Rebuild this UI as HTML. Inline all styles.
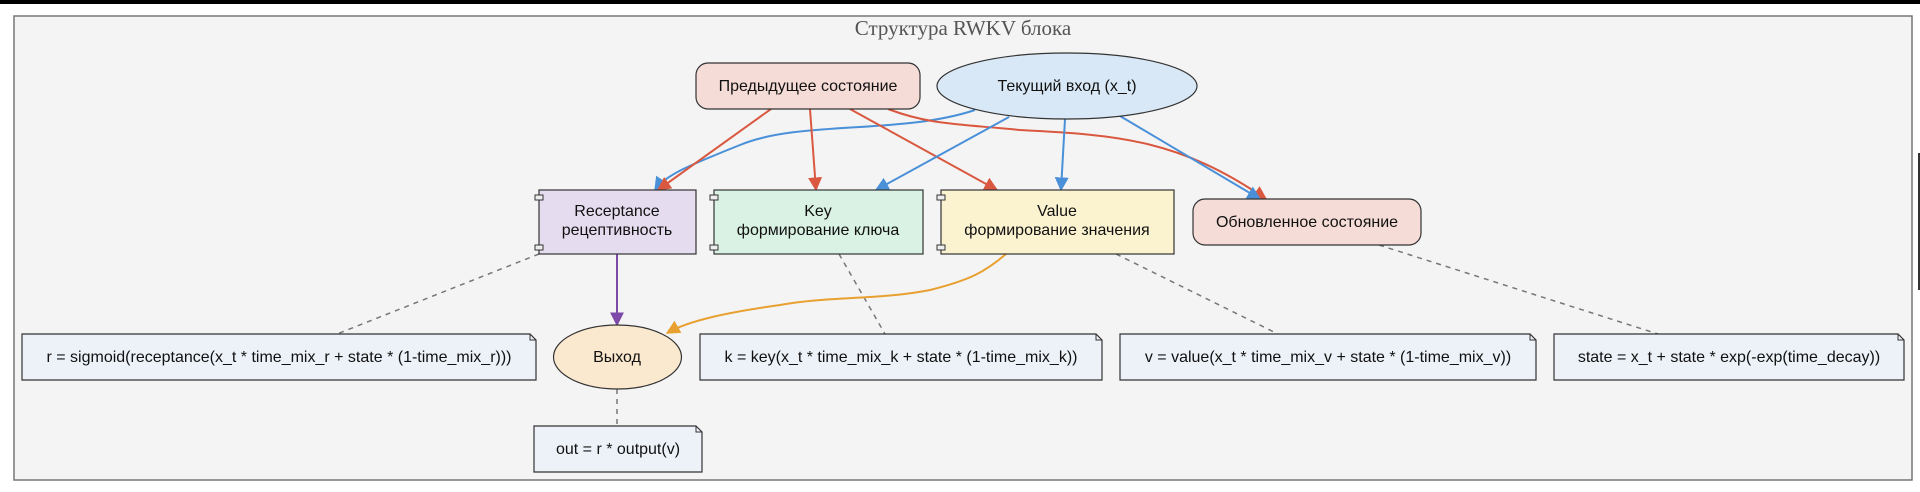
<!DOCTYPE html>
<html><head><meta charset="utf-8"><style>
html,body{margin:0;padding:0;background:#fff;}
svg{display:block;}
text{font-family:"Liberation Sans","DejaVu Sans",sans-serif;font-size:16px;fill:#111;}
</style></head><body>
<svg width="1920" height="492" viewBox="0 0 1920 492" xmlns="http://www.w3.org/2000/svg">
<defs>
<marker id="ar" viewBox="0 0 10 10" refX="9" refY="5" markerWidth="14" markerHeight="14" markerUnits="userSpaceOnUse" orient="auto"><path d="M0,0 L10,5 L0,10 z" fill="#d9583f"/></marker>
<marker id="ab" viewBox="0 0 10 10" refX="9" refY="5" markerWidth="14" markerHeight="14" markerUnits="userSpaceOnUse" orient="auto"><path d="M0,0 L10,5 L0,10 z" fill="#4a90d9"/></marker>
<marker id="ap" viewBox="0 0 10 10" refX="9" refY="5" markerWidth="14" markerHeight="14" markerUnits="userSpaceOnUse" orient="auto"><path d="M0,0 L10,5 L0,10 z" fill="#7d4aa8"/></marker>
<marker id="ao" viewBox="0 0 10 10" refX="9" refY="5" markerWidth="14" markerHeight="14" markerUnits="userSpaceOnUse" orient="auto"><path d="M0,0 L10,5 L0,10 z" fill="#e8a030"/></marker>
</defs>
<rect x="0" y="0" width="1920" height="4" fill="#000"/>
<rect x="1918" y="153" width="2" height="137" fill="#333"/>
<rect x="14" y="16" width="1898" height="464" fill="#f4f4f4" stroke="#777" stroke-width="1.5"/>
<text x="963" y="35" text-anchor="middle" style="font-family:'Liberation Serif',serif;font-size:21px;fill:#555">Структура RWKV блока</text>

<g stroke="#777" stroke-width="1.5" stroke-dasharray="5,5" fill="none">
<line x1="539" y1="254" x2="337" y2="334"/>
<line x1="839" y1="254" x2="885" y2="334"/>
<line x1="1116" y1="254" x2="1278" y2="334"/>
<line x1="1379" y1="245" x2="1658" y2="334"/>
<line x1="617" y1="389" x2="617" y2="426"/>
</g>

<g fill="none" stroke-width="2">
<path d="M975,110 C900,135 800,120 740,145 C690,165 665,175 655,190" stroke="#4a90d9" marker-end="url(#ab)"/>
<path d="M771,109 L658,190" stroke="#d9583f" marker-end="url(#ar)"/>
<path d="M810,109 L816,190" stroke="#d9583f" marker-end="url(#ar)"/>
<path d="M850,109 L997,190" stroke="#d9583f" marker-end="url(#ar)"/>
<path d="M888,109 C930,125 960,124 1020,130 C1120,135 1180,140 1266,199" stroke="#d9583f" marker-end="url(#ar)"/>
<path d="M1009,117 L876,190" stroke="#4a90d9" marker-end="url(#ab)"/>
<path d="M1065,119 L1061,190" stroke="#4a90d9" marker-end="url(#ab)"/>
<path d="M1120,116 L1260,199" stroke="#4a90d9" marker-end="url(#ab)"/>
<path d="M617,254 L617,325" stroke="#7d4aa8" marker-end="url(#ap)"/>
<path d="M1006,254 C985,272 970,280 930,290 C880,300 830,296 780,305 C730,312 690,320 667,333" stroke="#e8a030" marker-end="url(#ao)"/>
</g>

<g stroke="#333" stroke-width="1.2">
<rect x="696" y="63" width="224" height="46" rx="12" fill="#f5dcd7"/>
<ellipse cx="1067" cy="86" rx="130" ry="33" fill="#d9e8f6"/>
<rect x="539" y="190" width="157" height="64" fill="#e6dcef"/>
<rect x="714" y="190" width="209" height="64" fill="#d9f2e3"/>
<rect x="941" y="190" width="233" height="64" fill="#fbf2d0"/>
<rect x="1193" y="199" width="228" height="46" rx="12" fill="#f5dcd7"/>
<ellipse cx="617.5" cy="357" rx="64" ry="32" fill="#fbe9cf"/>
</g>
<g stroke="#333" stroke-width="1" fill="#eee">
<rect x="535" y="195" width="8" height="5"/><rect x="535" y="245" width="8" height="5"/>
<rect x="710" y="195" width="8" height="5"/><rect x="710" y="245" width="8" height="5"/>
<rect x="937" y="195" width="8" height="5"/><rect x="937" y="245" width="8" height="5"/>
</g>
<g stroke="#333" stroke-width="1.2" fill="#edf2f8">
<path d="M22,334 H530 L536,340 V380 H22 Z"/>
<path d="M700,334 H1096 L1102,340 V380 H700 Z"/>
<path d="M1120,334 H1530 L1536,340 V380 H1120 Z"/>
<path d="M1554,334 H1898 L1904,340 V380 H1554 Z"/>
<path d="M534,426 H696 L702,432 V472 H534 Z"/>
</g>
<g fill="none" stroke="#333" stroke-width="1">
<path d="M530,334 V340 H536"/><path d="M1096,334 V340 H1102"/><path d="M1530,334 V340 H1536"/><path d="M1898,334 V340 H1904"/><path d="M696,426 V432 H702"/>
</g>

<g text-anchor="middle">
<text x="808" y="91">Предыдущее состояние</text>
<text x="1067" y="91">Текущий вход (x_t)</text>
<text x="617" y="216">Receptance</text>
<text x="617" y="235">рецептивность</text>
<text x="818" y="216">Key</text>
<text x="818" y="235">формирование ключа</text>
<text x="1057" y="216">Value</text>
<text x="1057" y="235">формирование значения</text>
<text x="1307" y="227">Обновленное состояние</text>
<text x="617" y="362">Выход</text>
<text x="279" y="362">r = sigmoid(receptance(x_t * time_mix_r + state * (1-time_mix_r)))</text>
<text x="901" y="362">k = key(x_t * time_mix_k + state * (1-time_mix_k))</text>
<text x="1328" y="362">v = value(x_t * time_mix_v + state * (1-time_mix_v))</text>
<text x="1729" y="362">state = x_t + state * exp(-exp(time_decay))</text>
<text x="618" y="454">out = r * output(v)</text>
</g>
</svg>
</body></html>
